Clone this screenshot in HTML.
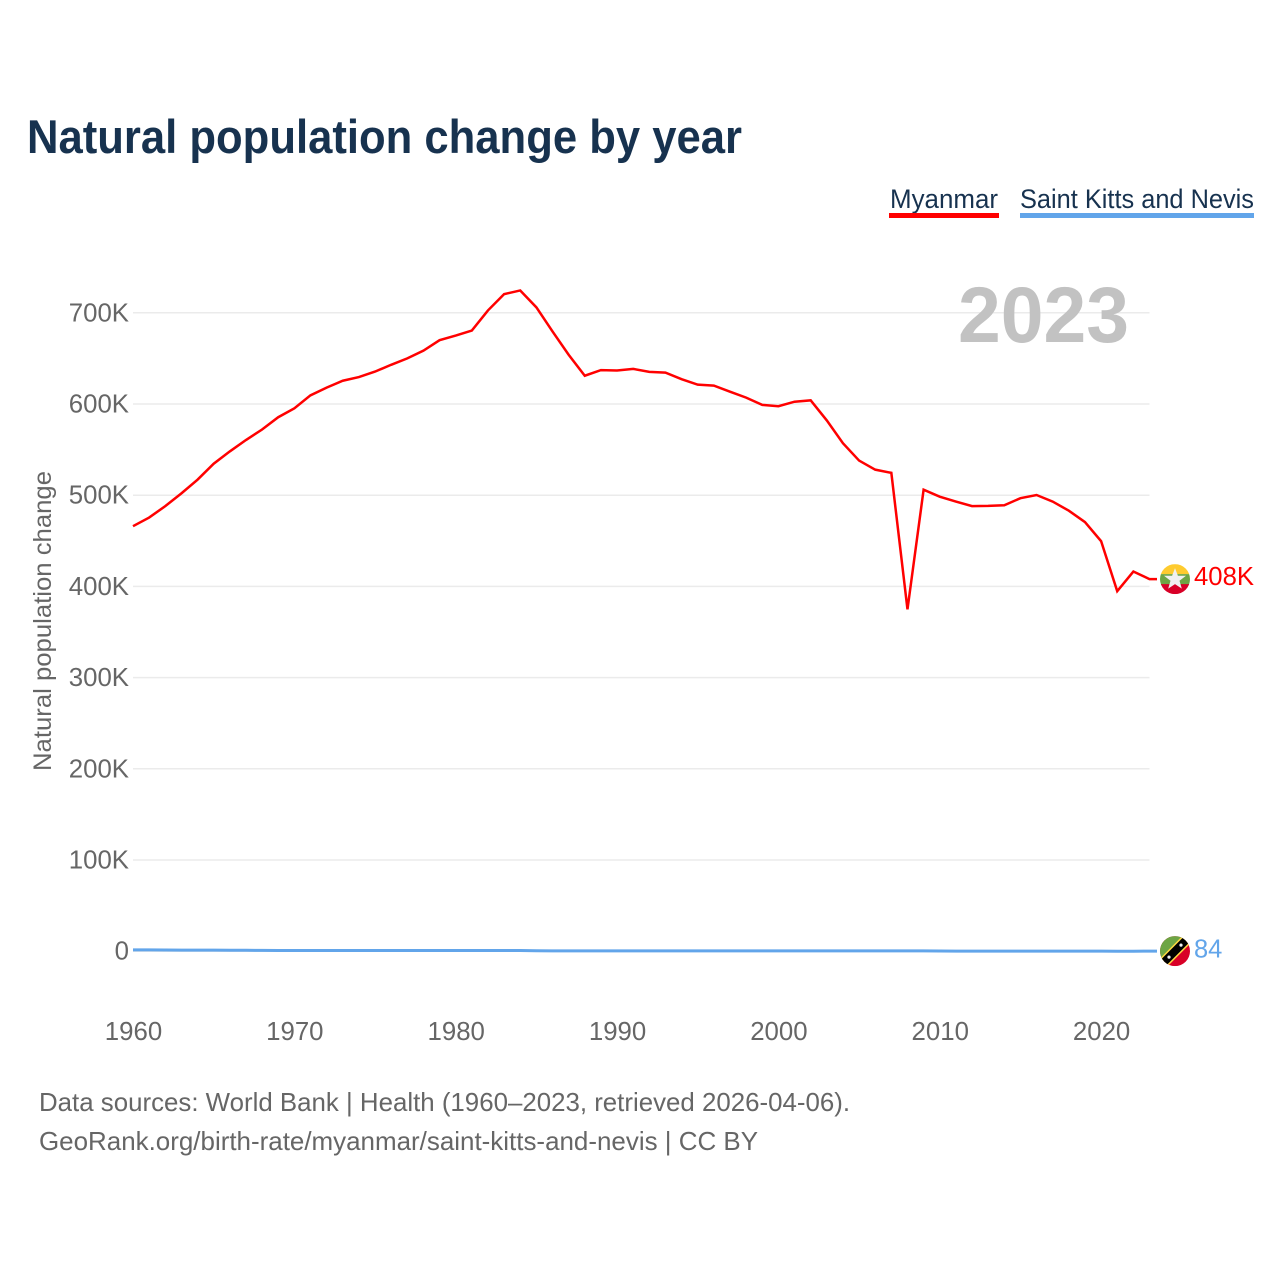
<!DOCTYPE html>
<html lang="en">
<head>
<meta charset="utf-8">
<title>Natural population change by year</title>
<style>
html,body{margin:0;padding:0;background:#fff;}
svg{display:block;font-family:"Liberation Sans",sans-serif;}
</style>
</head>
<body>
<svg id="chart" xmlns="http://www.w3.org/2000/svg" width="1280" height="1280" viewBox="0 0 1280 1280">
  <defs>
    <clipPath id="flag-clip"><circle cx="0" cy="0" r="15"></circle></clipPath>
  </defs>
  <rect x="0" y="0" width="1280" height="1280" fill="#fff"></rect>
  <text x="27" y="153" font-size="47" font-weight="700" fill="#17324f" textLength="715" lengthAdjust="spacingAndGlyphs">Natural population change by year</text>

  <g>
    <g>
      <text x="890" y="208" font-size="27" fill="#17324f" textLength="108" lengthAdjust="spacingAndGlyphs">Myanmar</text>
      <rect x="889" y="213" width="110" height="5" fill="#ff0000"></rect>
    </g>
    <g>
      <text x="1020" y="208" font-size="27" fill="#17324f" textLength="234" lengthAdjust="spacingAndGlyphs">Saint Kitts and Nevis</text>
      <rect x="1020" y="213" width="234" height="5" fill="#62a5ea"></rect>
    </g>
  </g>

  <g id="grid"></g>
  <text x="958" y="342" font-size="79" font-weight="700" fill="#c2c2c2" textLength="171" lengthAdjust="spacingAndGlyphs">2023</text>
  <g id="y-axis"></g>
  <g id="x-axis"></g>
  <text transform="translate(51 621) rotate(-90)" text-anchor="middle" font-size="25" fill="#666" textLength="300" lengthAdjust="spacingAndGlyphs">Natural population change</text>
  <g id="series"></g>

  <g id="flag-myanmar">
    <g clip-path="url(#flag-clip)">
      <rect x="-15" y="-15" width="30" height="10" fill="#fecb2f"></rect>
      <rect x="-15" y="-5" width="30" height="11" fill="#6da544"></rect>
      <rect x="-15" y="5" width="30" height="10" fill="#d80027"></rect>
      <polygon points="0,-11 2.9,-3.4 11,-3.4 4.5,1.6 6.8,9.5 0,5 -6.8,9.5 -4.5,1.6 -11,-3.4 -2.9,-3.4" fill="#f0f0f0"></polygon>
    </g>
  </g>
  <g id="flag-kitts">
    <g clip-path="url(#flag-clip)">
      <rect x="-15" y="-15" width="30" height="30" fill="#d80027"></rect>
      <polygon points="-15,-15 15,-15 -15,15" fill="#6da544"></polygon>
      <line x1="-16" y1="16" x2="16" y2="-16" stroke="#ffda44" stroke-width="11"></line>
      <line x1="-16" y1="16" x2="16" y2="-16" stroke="#000" stroke-width="8"></line>
      <circle cx="-6" cy="6" r="1.6" fill="#f0f0f0"></circle>
      <circle cx="6" cy="-6" r="1.6" fill="#f0f0f0"></circle>
    </g>
  </g>
  <text id="label-myanmar" x="1194" font-size="25.5" fill="#ff0000" textLength="60" lengthAdjust="spacingAndGlyphs"></text>
  <text id="label-kitts" x="1194" font-size="25.5" fill="#62a5ea"></text>

  <g>
    <text x="39" y="1111" font-size="26" fill="#666" textLength="811" lengthAdjust="spacingAndGlyphs">Data sources: World Bank | Health (1960–2023, retrieved 2026-04-06).</text>
    <text x="39" y="1150" font-size="26" fill="#666" textLength="719" lengthAdjust="spacingAndGlyphs">GeoRank.org/birth-rate/myanmar/saint-kitts-and-nevis | CC BY</text>
  </g>
</svg>
<script>
const years = [1960,1961,1962,1963,1964,1965,1966,1967,1968,1969,1970,1971,1972,1973,1974,1975,1976,1977,1978,1979,1980,1981,1982,1983,1984,1985,1986,1987,1988,1989,1990,1991,1992,1993,1994,1995,1996,1997,1998,1999,2000,2001,2002,2003,2004,2005,2006,2007,2008,2009,2010,2011,2012,2013,2014,2015,2016,2017,2018,2019,2020,2021,2022,2023];
const myanmarValues = [466,475.5,488,502,517,534.5,548,560.5,572,585.5,595.2,609.5,618,625.5,629.5,635.5,643,650,658.5,670,675,680.5,702.6,720.5,724.5,706,679.6,654,631,637.2,636.7,638.5,635.2,634.4,627.2,621.2,620.2,613.5,607,599,597.6,602.5,604,582,557,538,528,524.5,374.8,506,498.4,493,488,488.3,489,496.7,500.2,493,483,470.5,449.6,394.8,416.3,408];
const kittsValues = [1.4,1.4,1.3,1.2,1.2,1.2,1.1,1,0.9,0.8,0.7,0.7,0.7,0.8,0.8,0.8,0.8,0.8,0.8,0.8,0.8,0.8,0.8,0.8,0.7,0.5,0.4,0.4,0.4,0.4,0.4,0.4,0.4,0.4,0.4,0.4,0.4,0.4,0.4,0.4,0.4,0.4,0.4,0.4,0.4,0.4,0.3,0.3,0.3,0.3,0.2,0.1,0.1,0.1,0.1,0.1,0.1,0.1,0.1,0.1,0.1,-0.1,0,0.084];
const yTickValues = [0,100,200,300,400,500,600,700];
const yTickLabels = ["0","100K","200K","300K","400K","500K","600K","700K"];
const xTickValues = [1960,1970,1980,1990,2000,2010,2020];
const endLabels = ["408K","84"];

const NS = "http://www.w3.org/2000/svg";
function xScale(year){ return 133 + (year - 1960) * (1149.5 - 133) / 63; }
function yScale(value){ return 951.2 - value * 0.912; }
function make(tag, parent, attrs){
  const el = document.createElementNS(NS, tag);
  for (const k in attrs) el.setAttribute(k, attrs[k]);
  parent.appendChild(el);
  return el;
}

const grid = document.getElementById("grid");
const yAxis = document.getElementById("y-axis");
yTickValues.forEach(function(v, i){
  const line = make("line", grid, {x1:133, x2:1149.5, y1:yScale(v), y2:yScale(v), stroke:"#ebebeb", "stroke-width":1.5});
  
  
  const t = make("text", yAxis, {x:129, y:yScale(v) + 8.5, "text-anchor":"end", "font-size":25.8, fill:"#666"});
  
  
  t.textContent = yTickLabels[i];
});

const xAxis = document.getElementById("x-axis");
xTickValues.forEach(function(v){
  const t = make("text", xAxis, {x:xScale(v) + 0.5, y:1040, "text-anchor":"middle", "font-size":25.8, fill:"#666"});
  
  
  t.textContent = String(v);
});

const seriesGroup = document.getElementById("series");
function drawSeries(values, color, name, width){
  const pts = values.map(function(v, i){ return xScale(years[i]).toFixed(2) + "," + yScale(v).toFixed(2); });
  const last = values[values.length - 1];
  pts.push((xScale(years[years.length - 1]) + 7.5).toFixed(2) + "," + yScale(last).toFixed(2));
  const line = make("polyline", seriesGroup, {points:pts.join(" "), fill:"none", stroke:color, "stroke-width":width, "stroke-linejoin":"miter"});
  
  
}
drawSeries(kittsValues, "#62a5ea", "line-saint-kitts-and-nevis", 3);
drawSeries(myanmarValues, "#ff0000", "line-myanmar", 2.5);

const flagX = xScale(2023) + 25.5;
const myanmarY = yScale(myanmarValues[myanmarValues.length - 1]);
const kittsY = yScale(kittsValues[kittsValues.length - 1]);
document.getElementById("flag-myanmar").setAttribute("transform", "translate(" + flagX + " " + myanmarY + ")");
document.getElementById("flag-kitts").setAttribute("transform", "translate(" + flagX + " " + kittsY + ")");
const labelM = document.getElementById("label-myanmar");
labelM.setAttribute("y", myanmarY + 6);
labelM.textContent = endLabels[0];
const labelK = document.getElementById("label-kitts");
labelK.setAttribute("y", kittsY + 6.5);
labelK.textContent = endLabels[1];
</script>
</body>
</html>
